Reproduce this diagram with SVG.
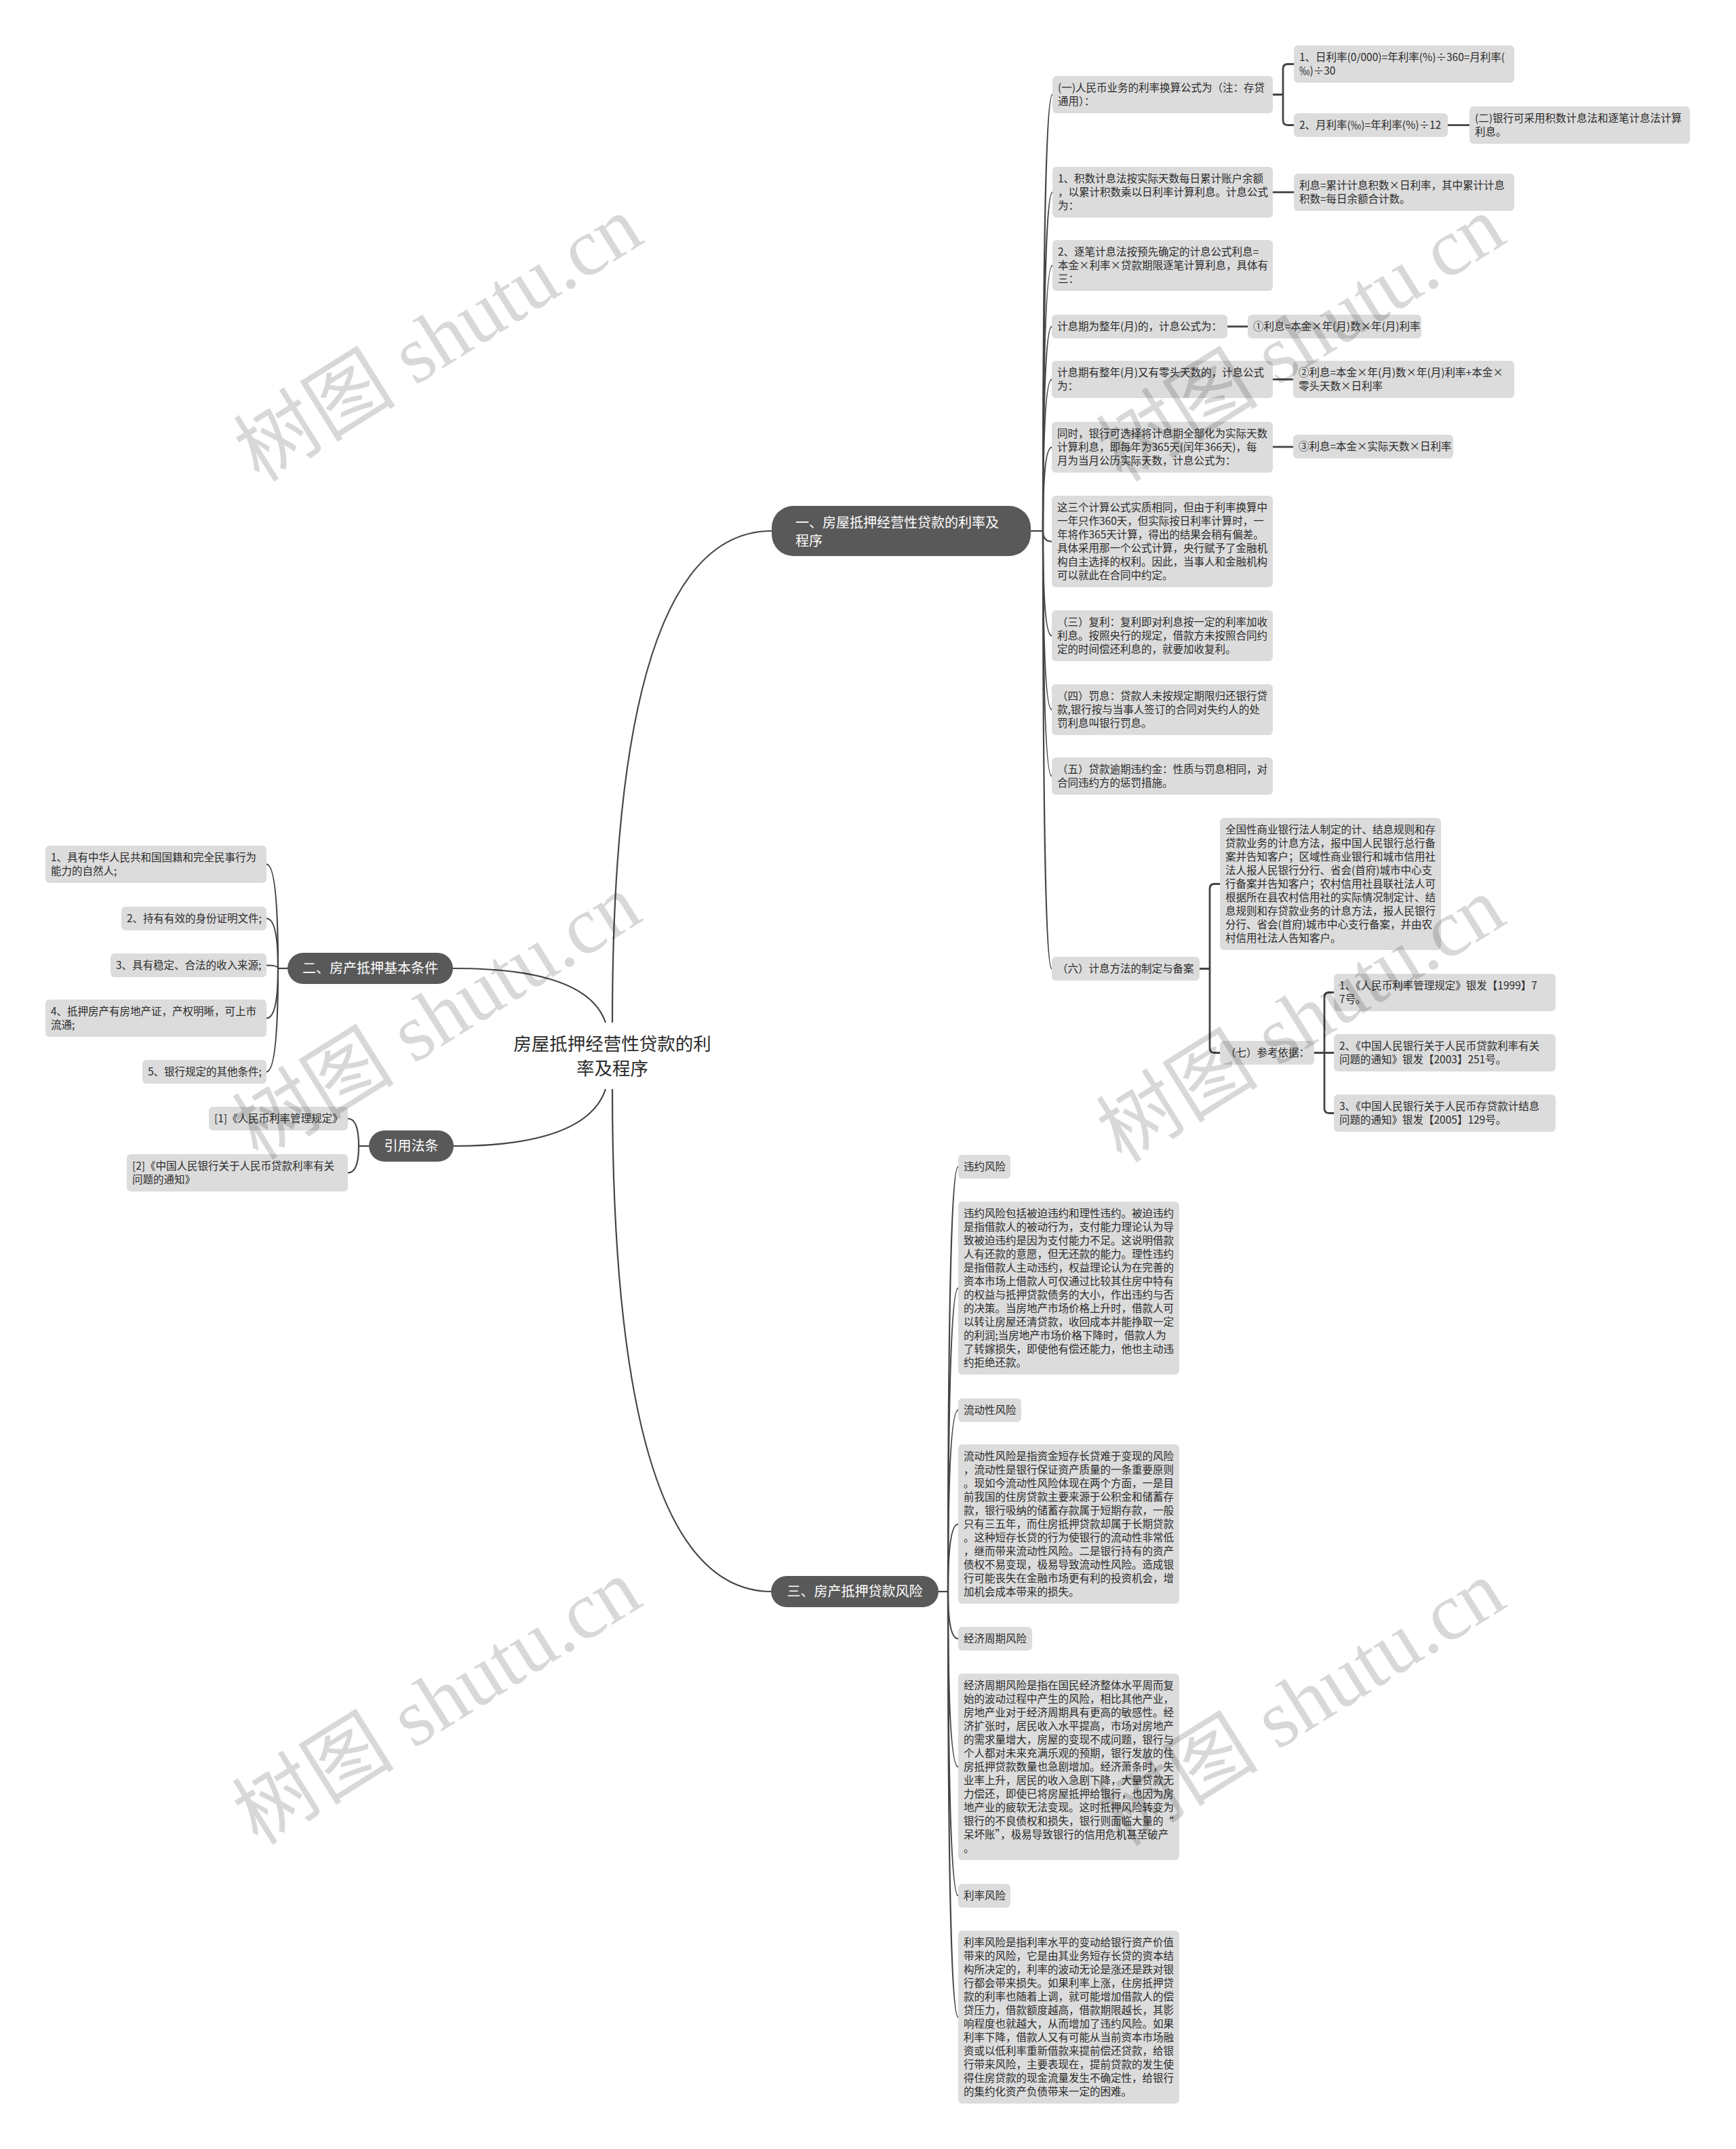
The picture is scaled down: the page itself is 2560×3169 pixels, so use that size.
<svg xmlns="http://www.w3.org/2000/svg" width="2560" height="3169" viewBox="0 0 2560 3169">
<style>
.bg{fill:#ffffff}
.box{fill:#dcdcdc}
.pill{fill:#595959}
.t{font-family:"Noto Sans CJK SC","Microsoft YaHei",sans-serif;font-size:15.5px;fill:#2b2b2b}
.pt{font-family:"Noto Sans CJK SC","Microsoft YaHei",sans-serif;font-size:20px;fill:#ffffff}
.root{font-family:"Noto Sans CJK SC","Microsoft YaHei",sans-serif;font-size:26.5px;fill:#2b2b2b;text-anchor:middle}
.c{fill:none;stroke:#444444;stroke-width:2.2}
.cb{fill:none;stroke:#444444;stroke-width:2.8}
.wm{font-family:"Liberation Serif","Noto Sans CJK SC",serif;font-size:120px;fill:#000000;opacity:0.15;text-anchor:middle}
</style>
<rect class="bg" x="0" y="0" width="2560" height="3169"/>

<g id="connectors">
  <path class="c" d="M903,1508 Q903,783 1138,783"/>
  <path class="c" d="M903,1606 Q903,2347 1138,2347"/>
  <path class="c" d="M893,1508 C870,1440 760,1428 667,1428"/>
  <path class="c" d="M893,1606 C870,1676 760,1690 669,1690"/>
  <path class="c" d="M1520,783 H1538"/>
  <path class="c" d="M1538,783 Q1538,139.5 1552,139.5"/>
  <path class="c" d="M1538,783 Q1538,283.5 1552,283.5"/>
  <path class="c" d="M1538,783 Q1538,391.5 1552,391.5"/>
  <path class="c" d="M1538,783 Q1538,481.5 1551,481.5"/>
  <path class="c" d="M1538,783 Q1538,559.5 1551,559.5"/>
  <path class="c" d="M1538,783 Q1538,659.5 1551,659.5"/>
  <path class="c" d="M1538,783 Q1538,798.5 1551,798.5"/>
  <path class="c" d="M1538,783 Q1538,937.5 1551,937.5"/>
  <path class="c" d="M1538,783 Q1538,1046.5 1551,1046.5"/>
  <path class="c" d="M1538,783 Q1538,1144.5 1551,1144.5"/>
  <path class="c" d="M1538,783 Q1538,1428.5 1551,1428.5"/>
  <path class="cb" d="M1877,139.5 H1892 M1908,94.5 H1899 Q1892,94.5 1892,101.5 V177.5 Q1892,184.5 1899,184.5 H1908"/>
  <path class="cb" d="M2135,184.5 H2167"/>
  <path class="cb" d="M1877,283.5 H1908"/>
  <path class="cb" d="M1810,481.5 H1840"/>
  <path class="cb" d="M1877,559.5 H1907"/>
  <path class="cb" d="M1877,659 H1907"/>
  <path class="cb" d="M1769,1428.5 H1784 M1799,1303.5 H1791 Q1784,1303.5 1784,1310.5 V1545.5 Q1784,1552.5 1791,1552.5 H1799"/>
  <path class="cb" d="M1938,1552.5 H1967 M1967,1463.5 H1960 Q1953,1463.5 1953,1470.5 V1634.5 Q1953,1641.5 1960,1641.5 H1967"/>
  <path class="c" d="M424,1428 H410"/>
  <path class="c" d="M410,1428 Q410,1274.5 393,1274.5"/>
  <path class="c" d="M410,1428 Q410,1354.5 393,1354.5"/>
  <path class="c" d="M410,1428 Q410,1423.5 393,1423.5"/>
  <path class="c" d="M410,1428 Q410,1501.5 393,1501.5"/>
  <path class="c" d="M410,1428 Q410,1580.5 393,1580.5"/>
  <path class="c" d="M544,1690 H529"/>
  <path class="c" d="M529,1690 Q529,1649.5 513,1649.5"/>
  <path class="c" d="M529,1690 Q529,1729.5 513,1729.5"/>
  <path class="c" d="M1384,2347 H1398"/>
  <path class="c" d="M1398,2347 Q1398,1720.5 1413,1720.5"/>
  <path class="c" d="M1398,2347 Q1398,1899.5 1413,1899.5"/>
  <path class="c" d="M1398,2347 Q1398,2079.5 1413,2079.5"/>
  <path class="c" d="M1398,2347 Q1398,2247.5 1413,2247.5"/>
  <path class="c" d="M1398,2347 Q1398,2416.5 1413,2416.5"/>
  <path class="c" d="M1398,2347 Q1398,2605.5 1413,2605.5"/>
  <path class="c" d="M1398,2347 Q1398,2795.5 1413,2795.5"/>
  <path class="c" d="M1398,2347 Q1398,2974.5 1413,2974.5"/>
</g>

<g id="root">
  <text class="root"><tspan x="903" y="1548.5">房屋抵押经营性贷款的利</tspan><tspan x="903" y="1584.5">率及程序</tspan></text>
</g>

<g id="b1">
  <rect class="pill" x="1138" y="746" width="382" height="74" rx="32"/>
  <text class="pt"><tspan x="1173" y="778">一、房屋抵押经营性贷款的利率及</tspan><tspan x="1173" y="805">程序</tspan></text>
</g>
<g id="b2">
  <rect class="pill" x="424" y="1405" width="244" height="46" rx="23"/>
  <text class="pt" text-anchor="middle" x="546" y="1435">二、房产抵押基本条件</text>
</g>
<g id="b4">
  <rect class="pill" x="544" y="1667" width="125" height="46" rx="23"/>
  <text class="pt" text-anchor="middle" x="606.5" y="1697">引用法条</text>
</g>
<g id="b3">
  <rect class="pill" x="1137" y="2324" width="247" height="46" rx="23"/>
  <text class="pt" text-anchor="middle" x="1260.5" y="2354">三、房产抵押贷款风险</text>
</g>

<g id="n1a"><rect class="box" x="1552" y="112" width="325" height="55" rx="6"/>
<text class="t"><tspan x="1560" y="135">(一)人民币业务的利率换算公式为（注：存贷</tspan><tspan x="1560" y="155">通用）：</tspan></text></g>
<g id="n1a1"><rect class="box" x="1908" y="67" width="325" height="55" rx="6"/>
<text class="t"><tspan x="1916" y="90">1、日利率(0/000)=年利率(%)÷360=月利率(</tspan><tspan x="1916" y="110">‰)÷30</tspan></text></g>
<g id="n1a2"><rect class="box" x="1908" y="167" width="227" height="35" rx="6"/>
<text class="t"><tspan x="1916" y="190">2、月利率(‰)=年利率(%)÷12</tspan></text></g>
<g id="n1a3"><rect class="box" x="2167" y="157" width="325" height="55" rx="6"/>
<text class="t"><tspan x="2175" y="180">(二)银行可采用积数计息法和逐笔计息法计算</tspan><tspan x="2175" y="200">利息。</tspan></text></g>
<g id="n1b"><rect class="box" x="1552" y="246" width="325" height="75" rx="6"/>
<text class="t"><tspan x="1560" y="269">1、积数计息法按实际天数每日累计账户余额</tspan><tspan x="1560" y="289">，以累计积数乘以日利率计算利息。计息公式</tspan><tspan x="1560" y="309">为：</tspan></text></g>
<g id="n1b1"><rect class="box" x="1908" y="256" width="325" height="55" rx="6"/>
<text class="t"><tspan x="1916" y="279">利息=累计计息积数×日利率，其中累计计息</tspan><tspan x="1916" y="299">积数=每日余额合计数。</tspan></text></g>
<g id="n1c"><rect class="box" x="1552" y="354" width="325" height="75" rx="6"/>
<text class="t"><tspan x="1560" y="377">2、逐笔计息法按预先确定的计息公式利息=</tspan><tspan x="1560" y="397">本金×利率×贷款期限逐笔计算利息，具体有</tspan><tspan x="1560" y="417">三：</tspan></text></g>
<g id="n1d"><rect class="box" x="1551" y="464" width="259" height="35" rx="6"/>
<text class="t"><tspan x="1559" y="487">计息期为整年(月)的，计息公式为：</tspan></text></g>
<g id="n1d1"><rect class="box" x="1840" y="464" width="256" height="35" rx="6"/>
<text class="t"><tspan x="1848" y="487">①利息=本金×年(月)数×年(月)利率</tspan></text></g>
<g id="n1e"><rect class="box" x="1551" y="532" width="326" height="55" rx="6"/>
<text class="t"><tspan x="1559" y="555">计息期有整年(月)又有零头天数的，计息公式</tspan><tspan x="1559" y="575">为：</tspan></text></g>
<g id="n1e1"><rect class="box" x="1907" y="532" width="326" height="55" rx="6"/>
<text class="t"><tspan x="1915" y="555">②利息=本金×年(月)数×年(月)利率+本金×</tspan><tspan x="1915" y="575">零头天数×日利率</tspan></text></g>
<g id="n1f"><rect class="box" x="1551" y="622" width="326" height="75" rx="6"/>
<text class="t"><tspan x="1559" y="645">同时，银行可选择将计息期全部化为实际天数</tspan><tspan x="1559" y="665">计算利息，即每年为365天(闰年366天)，每</tspan><tspan x="1559" y="685">月为当月公历实际天数，计息公式为：</tspan></text></g>
<g id="n1f1"><rect class="box" x="1907" y="641" width="236" height="35" rx="6"/>
<text class="t"><tspan x="1915" y="664">③利息=本金×实际天数×日利率</tspan></text></g>
<g id="n1g"><rect class="box" x="1551" y="731" width="326" height="135" rx="6"/>
<text class="t"><tspan x="1559" y="754">这三个计算公式实质相同，但由于利率换算中</tspan><tspan x="1559" y="774">一年只作360天，但实际按日利率计算时，一</tspan><tspan x="1559" y="794">年将作365天计算，得出的结果会稍有偏差。</tspan><tspan x="1559" y="814">具体采用那一个公式计算，央行赋予了金融机</tspan><tspan x="1559" y="834">构自主选择的权利。因此，当事人和金融机构</tspan><tspan x="1559" y="854">可以就此在合同中约定。</tspan></text></g>
<g id="n1h"><rect class="box" x="1551" y="900" width="326" height="75" rx="6"/>
<text class="t"><tspan x="1559" y="923">（三）复利：复利即对利息按一定的利率加收</tspan><tspan x="1559" y="943">利息。按照央行的规定，借款方未按照合同约</tspan><tspan x="1559" y="963">定的时间偿还利息的，就要加收复利。</tspan></text></g>
<g id="n1i"><rect class="box" x="1551" y="1009" width="326" height="75" rx="6"/>
<text class="t"><tspan x="1559" y="1032">（四）罚息：贷款人未按规定期限归还银行贷</tspan><tspan x="1559" y="1052">款,银行按与当事人签订的合同对失约人的处</tspan><tspan x="1559" y="1072">罚利息叫银行罚息。</tspan></text></g>
<g id="n1j"><rect class="box" x="1551" y="1117" width="326" height="55" rx="6"/>
<text class="t"><tspan x="1559" y="1140">（五）贷款逾期违约金：性质与罚息相同，对</tspan><tspan x="1559" y="1160">合同违约方的惩罚措施。</tspan></text></g>
<g id="n1k"><rect class="box" x="1551" y="1411" width="218" height="35" rx="6"/>
<text class="t"><tspan x="1559" y="1434">（六）计息方法的制定与备案</tspan></text></g>
<g id="n1k1"><rect class="box" x="1799" y="1206" width="326" height="195" rx="6"/>
<text class="t"><tspan x="1807" y="1229">全国性商业银行法人制定的计、结息规则和存</tspan><tspan x="1807" y="1249">贷款业务的计息方法，报中国人民银行总行备</tspan><tspan x="1807" y="1269">案并告知客户；区域性商业银行和城市信用社</tspan><tspan x="1807" y="1289">法人报人民银行分行、省会(首府)城市中心支</tspan><tspan x="1807" y="1309">行备案并告知客户；农村信用社县联社法人可</tspan><tspan x="1807" y="1329">根据所在县农村信用社的实际情况制定计、结</tspan><tspan x="1807" y="1349">息规则和存贷款业务的计息方法，报人民银行</tspan><tspan x="1807" y="1369">分行、省会(首府)城市中心支行备案，并由农</tspan><tspan x="1807" y="1389">村信用社法人告知客户。</tspan></text></g>
<g id="n1k2"><rect class="box" x="1799" y="1535" width="139" height="35" rx="6"/>
<text class="t"><tspan x="1807" y="1558">（七）参考依据：</tspan></text></g>
<g id="n1k2a"><rect class="box" x="1967" y="1436" width="327" height="55" rx="6"/>
<text class="t"><tspan x="1975" y="1459">1、《人民币利率管理规定》银发【1999】7</tspan><tspan x="1975" y="1479">7号。</tspan></text></g>
<g id="n1k2b"><rect class="box" x="1967" y="1525" width="327" height="55" rx="6"/>
<text class="t"><tspan x="1975" y="1548">2、《中国人民银行关于人民币贷款利率有关</tspan><tspan x="1975" y="1568">问题的通知》银发【2003】251号。</tspan></text></g>
<g id="n1k2c"><rect class="box" x="1967" y="1614" width="327" height="55" rx="6"/>
<text class="t"><tspan x="1975" y="1637">3、《中国人民银行关于人民币存贷款计结息</tspan><tspan x="1975" y="1657">问题的通知》银发【2005】129号。</tspan></text></g>

<g id="n2a"><rect class="box" x="67" y="1247" width="326" height="55" rx="6"/>
<text class="t"><tspan x="75" y="1270">1、具有中华人民共和国国籍和完全民事行为</tspan><tspan x="75" y="1290">能力的自然人;</tspan></text></g>
<g id="n2b"><rect class="box" x="179" y="1337" width="214" height="35" rx="6"/>
<text class="t"><tspan x="187" y="1360">2、持有有效的身份证明文件;</tspan></text></g>
<g id="n2c"><rect class="box" x="163" y="1406" width="230" height="35" rx="6"/>
<text class="t"><tspan x="171" y="1429">3、具有稳定、合法的收入来源;</tspan></text></g>
<g id="n2d"><rect class="box" x="67" y="1474" width="326" height="55" rx="6"/>
<text class="t"><tspan x="75" y="1497">4、抵押房产有房地产证，产权明晰，可上市</tspan><tspan x="75" y="1517">流通;</tspan></text></g>
<g id="n2e"><rect class="box" x="210" y="1563" width="183" height="35" rx="6"/>
<text class="t"><tspan x="218" y="1586">5、银行规定的其他条件;</tspan></text></g>

<g id="n4a"><rect class="box" x="308" y="1632" width="205" height="35" rx="6"/>
<text class="t"><tspan x="316" y="1655">[1]《人民币利率管理规定》</tspan></text></g>
<g id="n4b"><rect class="box" x="187" y="1702" width="326" height="55" rx="6"/>
<text class="t"><tspan x="195" y="1725">[2]《中国人民银行关于人民币贷款利率有关</tspan><tspan x="195" y="1745">问题的通知》</tspan></text></g>

<g id="n3a"><rect class="box" x="1413" y="1703" width="77" height="35" rx="6"/>
<text class="t"><tspan x="1421" y="1726">违约风险</tspan></text></g>
<g id="n3b"><rect class="box" x="1413" y="1772" width="326" height="255" rx="6"/>
<text class="t"><tspan x="1421" y="1795">违约风险包括被迫违约和理性违约。被迫违约</tspan><tspan x="1421" y="1815">是指借款人的被动行为，支付能力理论认为导</tspan><tspan x="1421" y="1835">致被迫违约是因为支付能力不足。这说明借款</tspan><tspan x="1421" y="1855">人有还款的意愿，但无还款的能力。理性违约</tspan><tspan x="1421" y="1875">是指借款人主动违约，权益理论认为在完善的</tspan><tspan x="1421" y="1895">资本市场上借款人可仅通过比较其住房中特有</tspan><tspan x="1421" y="1915">的权益与抵押贷款债务的大小，作出违约与否</tspan><tspan x="1421" y="1935">的决策。当房地产市场价格上升时，借款人可</tspan><tspan x="1421" y="1955">以转让房屋还清贷款，收回成本并能挣取一定</tspan><tspan x="1421" y="1975">的利润;当房地产市场价格下降时，借款人为</tspan><tspan x="1421" y="1995">了转嫁损失，即使他有偿还能力，他也主动违</tspan><tspan x="1421" y="2015">约拒绝还款。</tspan></text></g>
<g id="n3c"><rect class="box" x="1413" y="2062" width="93" height="35" rx="6"/>
<text class="t"><tspan x="1421" y="2085">流动性风险</tspan></text></g>
<g id="n3d"><rect class="box" x="1413" y="2130" width="326" height="235" rx="6"/>
<text class="t"><tspan x="1421" y="2153">流动性风险是指资金短存长贷难于变现的风险</tspan><tspan x="1421" y="2173">，流动性是银行保证资产质量的一条重要原则</tspan><tspan x="1421" y="2193">。现如今流动性风险体现在两个方面，一是目</tspan><tspan x="1421" y="2213">前我国的住房贷款主要来源于公积金和储蓄存</tspan><tspan x="1421" y="2233">款，银行吸纳的储蓄存款属于短期存款，一般</tspan><tspan x="1421" y="2253">只有三五年，而住房抵押贷款却属于长期贷款</tspan><tspan x="1421" y="2273">。这种短存长贷的行为使银行的流动性非常低</tspan><tspan x="1421" y="2293">，继而带来流动性风险。二是银行持有的资产</tspan><tspan x="1421" y="2313">债权不易变现，极易导致流动性风险。造成银</tspan><tspan x="1421" y="2333">行可能丧失在金融市场更有利的投资机会，增</tspan><tspan x="1421" y="2353">加机会成本带来的损失。</tspan></text></g>
<g id="n3e"><rect class="box" x="1413" y="2399" width="109" height="35" rx="6"/>
<text class="t"><tspan x="1421" y="2422">经济周期风险</tspan></text></g>
<g id="n3f"><rect class="box" x="1413" y="2468" width="326" height="275" rx="6"/>
<text class="t"><tspan x="1421" y="2491">经济周期风险是指在国民经济整体水平周而复</tspan><tspan x="1421" y="2511">始的波动过程中产生的风险，相比其他产业，</tspan><tspan x="1421" y="2531">房地产业对于经济周期具有更高的敏感性。经</tspan><tspan x="1421" y="2551">济扩张时，居民收入水平提高，市场对房地产</tspan><tspan x="1421" y="2571">的需求量增大，房屋的变现不成问题，银行与</tspan><tspan x="1421" y="2591">个人都对未来充满乐观的预期，银行发放的住</tspan><tspan x="1421" y="2611">房抵押贷款数量也急剧增加。经济萧条时，失</tspan><tspan x="1421" y="2631">业率上升，居民的收入急剧下降，大量贷款无</tspan><tspan x="1421" y="2651">力偿还，即使已将房屋抵押给银行，也因为房</tspan><tspan x="1421" y="2671">地产业的疲软无法变现。这时抵押风险转变为</tspan><tspan x="1421" y="2691">银行的不良债权和损失，银行则面临大量的“</tspan><tspan x="1421" y="2711">呆坏账”，极易导致银行的信用危机甚至破产</tspan><tspan x="1421" y="2731">。</tspan></text></g>
<g id="n3g"><rect class="box" x="1413" y="2778" width="77" height="35" rx="6"/>
<text class="t"><tspan x="1421" y="2801">利率风险</tspan></text></g>
<g id="n3h"><rect class="box" x="1413" y="2847" width="326" height="255" rx="6"/>
<text class="t"><tspan x="1421" y="2870">利率风险是指利率水平的变动给银行资产价值</tspan><tspan x="1421" y="2890">带来的风险，它是由其业务短存长贷的资本结</tspan><tspan x="1421" y="2910">构所决定的，利率的波动无论是涨还是跌对银</tspan><tspan x="1421" y="2930">行都会带来损失。如果利率上涨，住房抵押贷</tspan><tspan x="1421" y="2950">款的利率也随着上调，就可能增加借款人的偿</tspan><tspan x="1421" y="2970">贷压力，借款额度越高，借款期限越长，其影</tspan><tspan x="1421" y="2990">响程度也就越大，从而增加了违约风险。如果</tspan><tspan x="1421" y="3010">利率下降，借款人又有可能从当前资本市场融</tspan><tspan x="1421" y="3030">资或以低利率重新借款来提前偿还贷款，给银</tspan><tspan x="1421" y="3050">行带来风险，主要表现在，提前贷款的发生使</tspan><tspan x="1421" y="3070">得住房贷款的现金流量发生不确定性，给银行</tspan><tspan x="1421" y="3090">的集约化资产负债带来一定的困难。</tspan></text></g>

<g id="watermarks">
  <text class="wm" transform="translate(668,534) rotate(-32)">树图 shutu.cn</text>
  <text class="wm" transform="translate(1940,534) rotate(-32)">树图 shutu.cn</text>
  <text class="wm" transform="translate(666,1534) rotate(-32)">树图 shutu.cn</text>
  <text class="wm" transform="translate(1940,1538) rotate(-32)">树图 shutu.cn</text>
  <text class="wm" transform="translate(666,2544) rotate(-32)">树图 shutu.cn</text>
  <text class="wm" transform="translate(1940,2546) rotate(-32)">树图 shutu.cn</text>
</g>
</svg>
